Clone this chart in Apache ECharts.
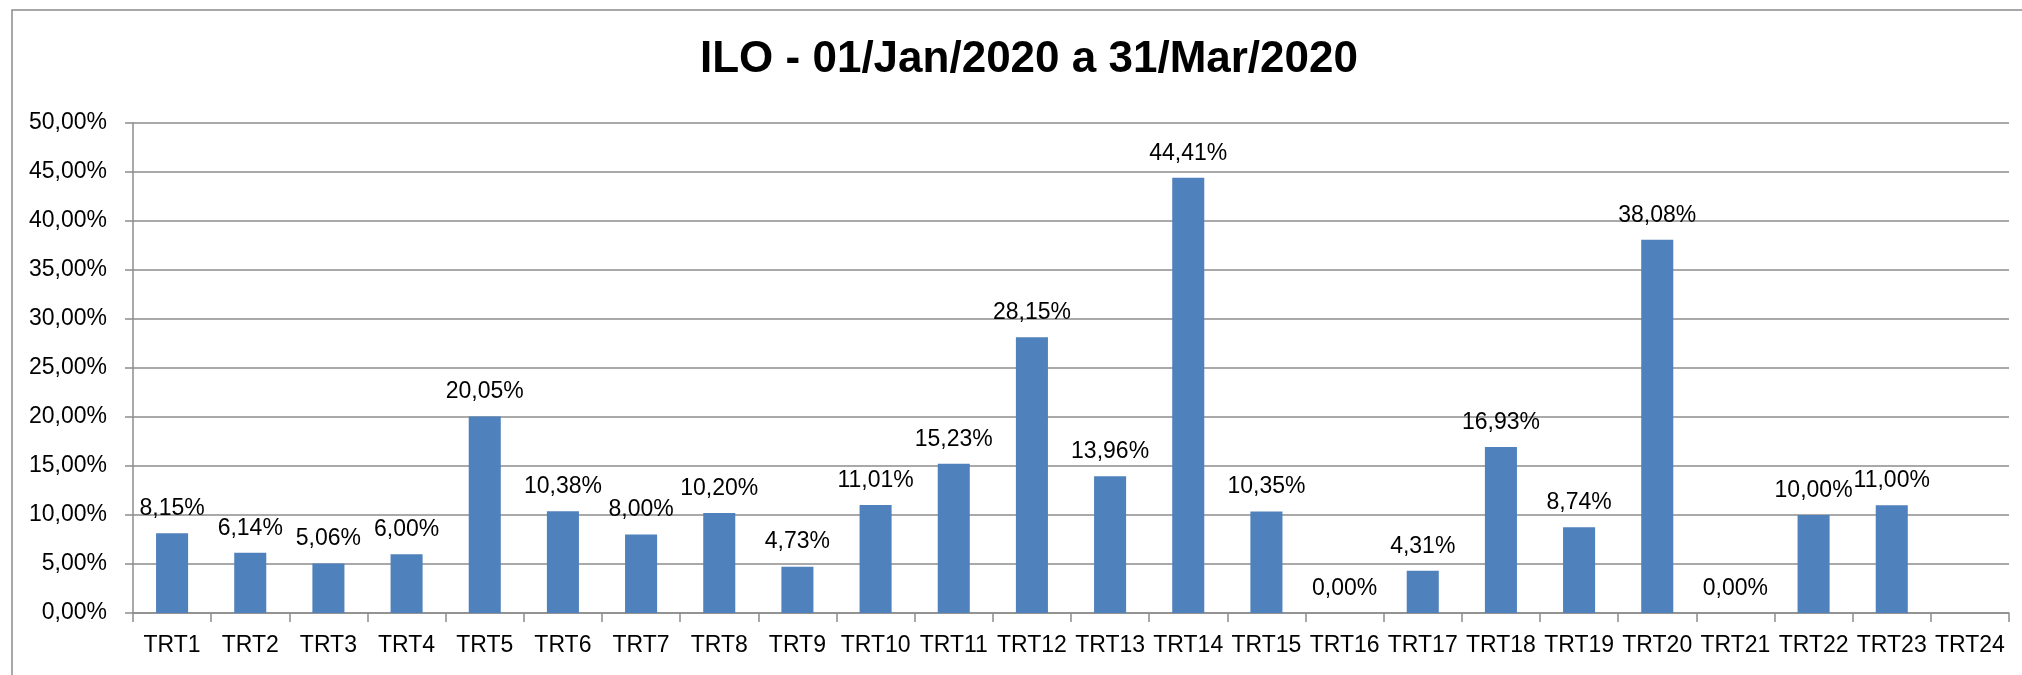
<!DOCTYPE html>
<html>
<head>
<meta charset="utf-8">
<script src="https://cdn.jsdelivr.net/npm/echarts@6/dist/echarts.min.js"></script>
<style>
  html, body { margin: 0; padding: 0; background: #fff; }
  #chart { width: 2022px; height: 675px; }
</style>
</head>
<body>
<div id="chart"></div>
<script>
const titleText = 'ILO - 01/Jan/2020 a 31/Mar/2020';
const categories = ['TRT1', 'TRT2', 'TRT3', 'TRT4', 'TRT5', 'TRT6', 'TRT7', 'TRT8', 'TRT9', 'TRT10',
  'TRT11', 'TRT12', 'TRT13', 'TRT14', 'TRT15', 'TRT16', 'TRT17', 'TRT18', 'TRT19', 'TRT20',
  'TRT21', 'TRT22', 'TRT23', 'TRT24'];
// percentuais (TRT24 sem dado)
const values = [8.15, 6.14, 5.06, 6.00, 20.05, 10.38, 8.00, 10.20, 4.73, 11.01,
  15.23, 28.15, 13.96, 44.41, 10.35, 0.00, 4.31, 16.93, 8.74, 38.08,
  0.00, 10.00, 11.00, null];
const yMin = 0;
const yMax = 50;
const yStep = 5;

const fmt = (v) => Number(v).toFixed(2).replace('.', ',') + '%';
const font = 'Liberation Sans, Arial, sans-serif';
const gray = '#8c8c8c';

const chart = echarts.init(document.getElementById('chart'));

const option = {
  animation: false,
  backgroundColor: '#fff',
  title: {
    text: titleText,
    left: 1024,
    top: 33,
    textAlign: 'center',
    textStyle: {
      fontFamily: font,
      fontSize: 44,
      fontWeight: 'bold',
      color: '#000'
    }
  },
  // moldura do grafico
  graphic: [{
    type: 'rect',
    shape: { x: 12, y: 10, width: 2100, height: 800 },
    style: { fill: null, stroke: gray, lineWidth: 1.5 },
    silent: true
  }],
  grid: {
    left: 133,
    right: 13,
    top: 123,
    bottom: 62
  },
  xAxis: {
    type: 'category',
    data: categories,
    axisLine: { lineStyle: { color: gray, width: 1.5 } },
    axisTick: { show: true, length: 9, lineStyle: { color: gray, width: 1.5 } },
    axisLabel: {
      interval: 0,
      margin: 21,
      color: '#000',
      fontFamily: font,
      fontSize: 23
    }
  },
  yAxis: {
    type: 'value',
    min: yMin,
    max: yMax,
    interval: yStep,
    axisLine: { show: true, lineStyle: { color: gray, width: 1.5 } },
    axisTick: { show: true, length: 8, lineStyle: { color: gray, width: 1.5 } },
    splitLine: { lineStyle: { color: gray, width: 1.5 } },
    axisLabel: {
      margin: 26,
      color: '#000',
      fontFamily: font,
      fontSize: 23,
      formatter: fmt
    }
  },
  series: [{
    type: 'bar',
    data: values,
    barCategoryGap: '59%',
    itemStyle: { color: '#4F81BD' },
    label: {
      show: true,
      position: 'top',
      distance: 13,
      color: '#000',
      fontFamily: font,
      fontSize: 23,
      formatter: (p) => fmt(p.value)
    }
  }]
};

chart.setOption(option);
</script>
</body>
</html>
